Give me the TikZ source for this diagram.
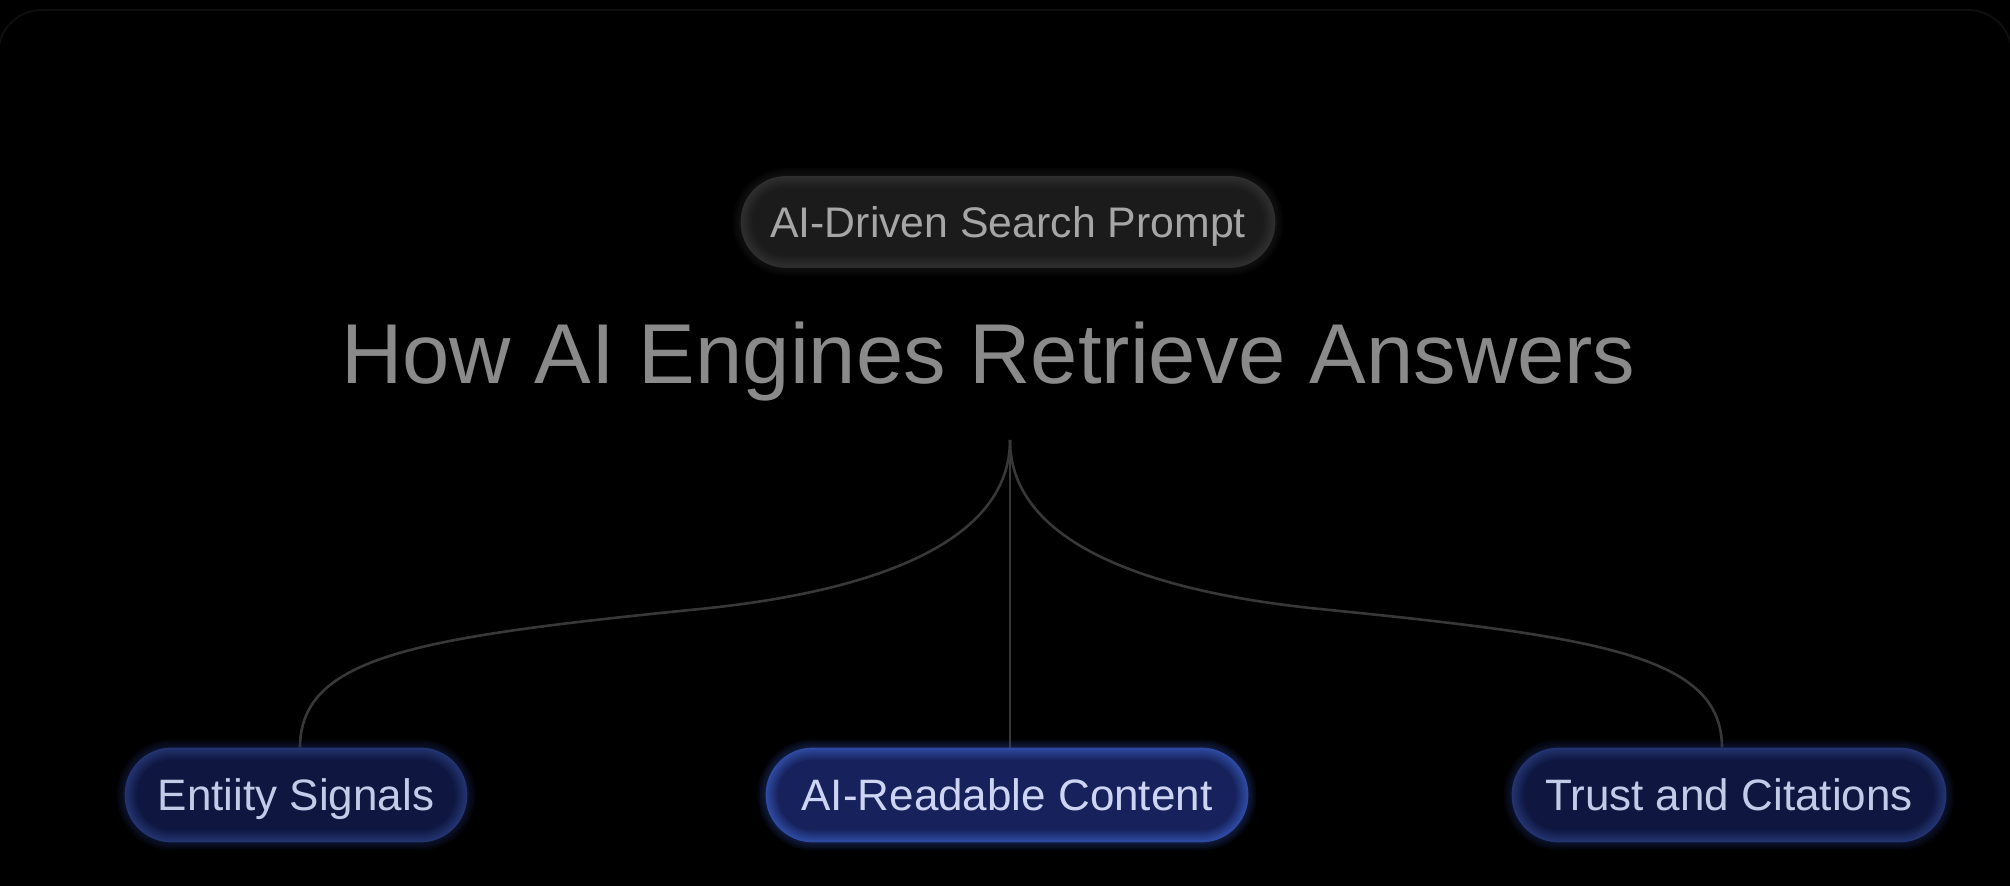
\documentclass[tikz,border=0pt]{standalone}
\usepackage{fontspec}
\setmainfont{Liberation Sans}
\usetikzlibrary{calc,backgrounds}
\definecolor{linegray}{HTML}{383838}
\definecolor{framegray}{HTML}{0E0E0E}
\definecolor{titlegray}{HTML}{8A8A8A}
\definecolor{prompttext}{HTML}{A6A6A6}
\definecolor{promptfill}{HTML}{1B1B1B}
\definecolor{promptrim}{HTML}{2E2E2E}
\definecolor{sidefill}{HTML}{0F1740}
\definecolor{siderim}{HTML}{22336F}
\definecolor{midfill}{HTML}{17225C}
\definecolor{midrim}{HTML}{2E4AA0}
\definecolor{pilltext}{HTML}{C3CBE9}
\definecolor{midtext}{HTML}{CDD5F3}
\newcommand{\pillglow}[4]{% node, rim, fill, radius(pt)
  \foreach \i in {4,3,2,1}{%
    \pgfmathsetmacro\rr{#4+\i}%
    \fill[#2, opacity=0.10, rounded corners=\rr pt]
      ($(#1.north west)+(-\i pt,\i pt)$) rectangle ($(#1.south east)+(\i pt,-\i pt)$);}
  \foreach \i in {0,...,6}{%
    \pgfmathsetmacro\pp{100-\i*100/6}%
    \pgfmathsetmacro\rr{#4-\i}%
    \fill[#2!\pp!#3, rounded corners=\rr pt]
      ($(#1.north west)+(\i pt,-\i pt)$) rectangle ($(#1.south east)+(-\i pt,\i pt)$);}
}
\tikzset{
  conn/.style={draw=linegray, line width=1.3pt},
  pillbox/.style={rectangle, inner sep=0pt, minimum height=47pt,
    text height=15.75pt, text depth=0pt, text=pilltext,
    font=\fontsize{22}{26}\selectfont},
  promptbox/.style={rectangle, inner sep=0pt, minimum width=267pt, minimum height=45.5pt,
    text height=15.3pt, text depth=0pt, text=prompttext,
    font=\fontsize{21.4}{25}\selectfont},
  titletext/.style={anchor=base, inner sep=0pt, text=titlegray,
    font=\fontsize{42.5}{50}\selectfont}
}
\begin{document}
\begin{tikzpicture}[x=0.5pt,y=-0.5pt]
\useasboundingbox (0,0) rectangle (2010,886);
\node[promptbox] (prompt) at (1008,222) {AI-Driven Search Prompt};
\node[titletext] (title) at (988.5,384) {How AI Engines Retrieve Answers};
\node[pillbox, minimum width=171pt] (ent) at (296,795) {Entiity Signals};
\node[pillbox, minimum width=241pt, text=midtext] (mid) at (1007,795) {AI-Readable Content};
\node[pillbox, minimum width=217pt] (trust) at (1729,795) {Trust and Citations};
\coordinate (hub) at (1010,440);
\coordinate (lbend) at (700,609);
\coordinate (rbend) at (1320,609);
\begin{pgfonlayer}{background}
\fill[black] (0,0) rectangle (2010,886);
\draw[framegray, line width=1pt, rounded corners=22pt] (-2,10) rectangle (2012,960);
\draw[conn] (hub) -- (hub |- mid.north);
\draw[conn] (hub) .. controls (1010,540) and (880,591) .. (lbend)
  .. controls (420,637) and ($(ent.north)+(4,-92)$) .. ($(ent.north)+(4,0)$);
\draw[conn] (hub) .. controls (1010,540) and (1140,591) .. (rbend)
  .. controls (1600,637) and ($(trust.north)+(-7,-92)$) .. ($(trust.north)+(-7,0)$);
\pillglow{prompt}{promptrim}{promptfill}{22.75}
\pillglow{ent}{siderim}{sidefill}{23.5}
\pillglow{mid}{midrim}{midfill}{23.5}
\pillglow{trust}{siderim}{sidefill}{23.5}
\end{pgfonlayer}
\end{tikzpicture}
\end{document}
